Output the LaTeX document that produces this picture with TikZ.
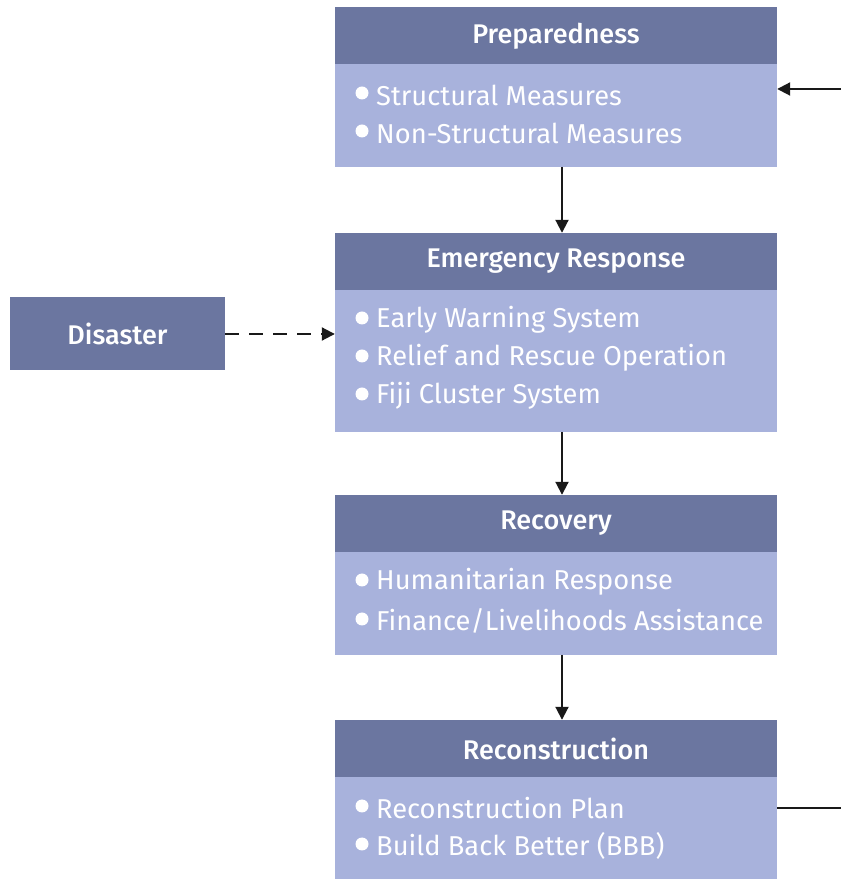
\documentclass[tikz,border=0pt]{standalone}
\usepackage{fontspec}
\setmainfont{Fira Sans}
\newfontfamily\hdrfont{Fira Sans}[UprightFont=* Medium]
\usetikzlibrary{arrows.meta}
\definecolor{hdr}{RGB}{107,118,160}
\definecolor{bdy}{RGB}{168,178,220}
\begin{document}
\begin{tikzpicture}[x=1pt,y=1pt,
  hdrbox/.style={fill=hdr,draw=none,minimum width=442pt,minimum height=57pt,inner sep=0pt,text=white,font=\hdrfont\fontsize{27}{30}\selectfont},
  bdybox/.style={fill=bdy,draw=none,minimum width=442pt,inner sep=0pt,anchor=north},
  item/.style={anchor=west,inner sep=0pt,text=white,font=\fontsize{27.3}{32}\selectfont},
  dot/.style={circle,fill=white,draw=none,minimum size=13pt,inner sep=0pt},
  conn/.style={draw=black!90,line width=2pt,-{Triangle[length=13pt,width=13pt]}},
]
\useasboundingbox (0,0) rectangle (841,879);
% bodies (drawn first, tucked 2pt under the headers)
\node[bdybox,minimum height=104pt] (b1) at (556,816.5) {};
\node[bdybox,minimum height=144pt] (b2) at (556,591) {};
\node[bdybox,minimum height=105pt] (b3) at (556,329) {};
\node[bdybox,minimum height=104pt] (b4) at (556,104) {};
% headers
\node[hdrbox] (h1) at (556,843) {Preparedness};
\node[hdrbox] (h2) at (556,617.5) {Emergency Response};
\node[hdrbox] (h3) at (556,355.5) {Recovery};
\node[hdrbox] (h4) at (556,130.5) {Reconstruction};
% Preparedness items
\node[dot] (d11) at (362,786) {}; \node[item] (t11) at (376,784) {Structural Measures};
\node[dot] (d12) at (362,748) {}; \node[item] (t12) at (376,746) {Non-Structural Measures};
% Emergency Response items
\node[dot] (d21) at (362,561) {}; \node[item] (t21) at (376,559) {Early Warning System};
\node[dot] (d22) at (362,523) {}; \node[item] (t22) at (376,521) {Relief and Rescue Operation};
\node[dot] (d23) at (362,485) {}; \node[item] (t23) at (376,483) {Fiji Cluster System};
% Recovery items
\node[dot] (d31) at (362,299) {}; \node[item] (t31) at (376,297) {Humanitarian Response};
\node[dot] (d32) at (362,260) {}; \node[item] (t32) at (376,258) {Finance/Livelihoods Assistance};
% Reconstruction items
\node[dot] (d41) at (362,73) {}; \node[item] (t41) at (376,71) {Reconstruction Plan};
\node[dot] (d42) at (362,35) {}; \node[item] (t42) at (376,33) {Build Back Better (BBB)};
% Disaster
\node[hdrbox,minimum width=215pt,minimum height=73pt] (dis) at (117.5,545) {Disaster};
% connectors
\draw[conn] ([xshift=6pt]h1.south |- 0,712) -- ([xshift=6pt]h2.north);
\draw[conn] ([xshift=6pt]h2.south |- 0,447) -- ([xshift=6pt]h3.north);
\draw[conn] ([xshift=6pt]h3.south |- 0,224) -- ([xshift=6pt]h4.north);
\draw[conn,dashed,dash pattern=on 14pt off 10pt] (dis.east) -- (dis.east -| b2.west);
\coordinate (r1) at (841,790);
\coordinate (r2) at (841,71);
\draw[conn] (r1) -- (r1 -| b1.east);
\draw[draw=black!90,line width=2pt] (r2 -| b4.east) -- (r2);
\end{tikzpicture}
\end{document}
